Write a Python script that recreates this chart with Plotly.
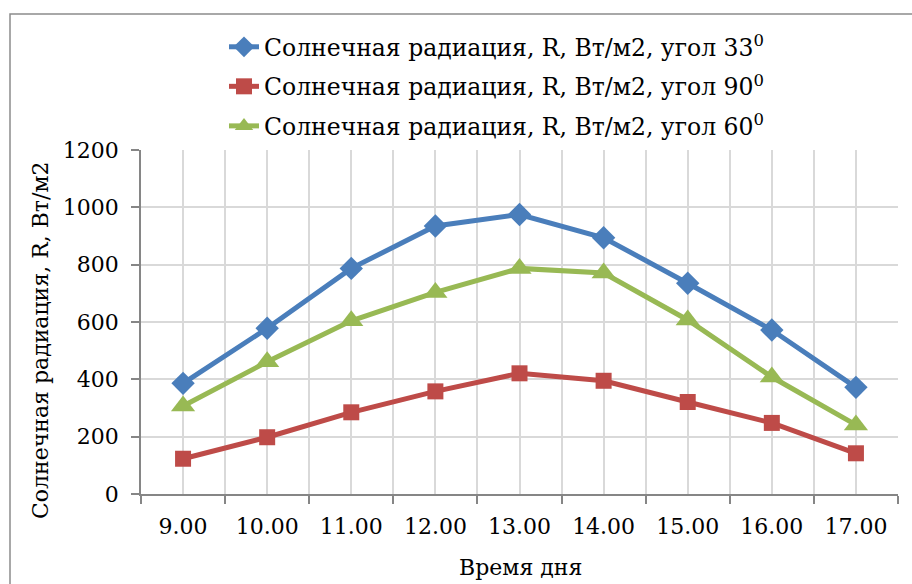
import plotly.graph_objects as go

categories = ["9.00", "10.00", "11.00", "12.00", "13.00", "14.00", "15.00", "16.00", "17.00"]
angle33 = [386, 578, 787, 935, 975, 894, 735, 572, 372]
angle90 = [123, 198, 285, 358, 421, 395, 321, 248, 142]
angle60 = [307, 461, 604, 703, 787, 771, 607, 408, 241]
names = [
    "Солнечная радиация, R, Вт/м2, угол 33<sup>0</sup>",
    "Солнечная радиация, R, Вт/м2, угол 90<sup>0</sup>",
    "Солнечная радиация, R, Вт/м2, угол 60<sup>0</sup>",
]
y_title = "Солнечная радиация, R, Вт/м2"
x_title = "Время дня"

FONT = "DejaVu Serif"
FS = 22
LFS = 23.5
GRID = "#D9D9D9"
AXIS = "#868686"

xs = list(range(len(categories)))
fig = go.Figure()
series = [
    (angle33, names[0], "#4A7EBB", "diamond", 18),
    (angle90, names[1], "#BE4B48", "square", 16),
    (angle60, names[2], "#98B954", "triangle-up", 21),
]
for i, (vals, nm, col, sym, sz) in enumerate(series):
    fig.add_trace(go.Scatter(
        x=xs, y=vals, name=nm, mode="lines+markers",
        line=dict(color=col, width=5),
        marker=dict(symbol=sym, size=sz, color=col, line=dict(width=0)),
        legendgroup=f"g{i}",
    ))

fig.update_layout(
    width=912, height=584,
    margin=dict(l=141, r=14, t=150, b=90, autoexpand=False),
    paper_bgcolor="white", plot_bgcolor="white",
    font=dict(family=FONT, size=FS, color="black"),
    showlegend=True,
    legend=dict(
        x=(224 - 141) / 757, y=(494 - 25) / 344, xanchor="left", yanchor="top",
        font=dict(family=FONT, size=LFS, color="black"),
        bgcolor="rgba(0,0,0,0)", tracegroupgap=6,
    ),
    xaxis=dict(
        range=[-0.5, 8.5], tickmode="array", tickvals=xs, ticktext=categories,
        ticks="", showgrid=True, gridcolor=GRID, gridwidth=1.5,
        showline=True, linecolor=AXIS, linewidth=1.5, zeroline=False,
        ticklabelstandoff=12, automargin=False,
        minor=dict(tickmode="array", tickvals=[x - 0.5 for x in range(len(categories) + 1)],
                   ticks="outside", ticklen=8, tickwidth=1.5, tickcolor=AXIS,
                   showgrid=True, gridcolor=GRID, gridwidth=1.5),
        fixedrange=True,
    ),
    yaxis=dict(
        range=[0, 1200], tickmode="linear", tick0=0, dtick=200,
        ticks="outside", ticklen=8, tickwidth=1.5, tickcolor=AXIS,
        showgrid=True, gridcolor=GRID, gridwidth=1.5,
        showline=True, linecolor=AXIS, linewidth=1.5, zeroline=False,
        ticklabelstandoff=8, automargin=False,
        fixedrange=True,
    ),
    shapes=[dict(type="rect", xref="paper", yref="paper",
                 x0=(10 - 141) / 757, x1=1.1, y0=-0.4, y1=(494 - 14) / 344,
                 line=dict(color="#8C8C8C", width=1.5), fillcolor="rgba(0,0,0,0)", layer="below")],
    annotations=[
        dict(text=y_title, xref="paper", yref="paper", x=(40 - 141) / 757, y=(494 - 340) / 344,
             textangle=-90, showarrow=False, xanchor="center", yanchor="middle",
             font=dict(family=FONT, size=FS)),
        dict(text=x_title, xref="paper", yref="paper", x=(520 - 141) / 757, y=(494 - 567) / 344,
             showarrow=False, xanchor="center", yanchor="middle",
             font=dict(family=FONT, size=FS)),
    ],
)

fig.write_html("out.html", config={"displayModeBar": False},
               post_script="document.body.style.margin='0px';document.body.style.overflow='hidden';")
